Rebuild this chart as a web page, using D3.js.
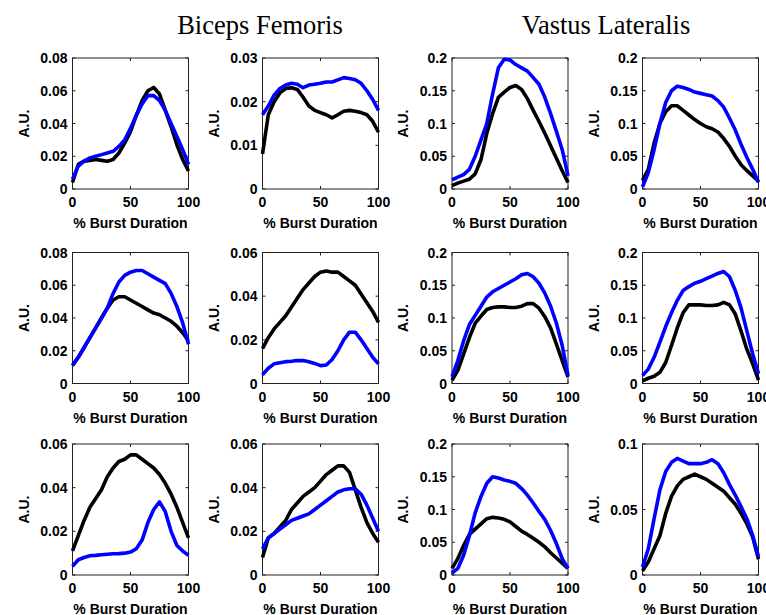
<!DOCTYPE html>
<html>
<head>
<meta charset="utf-8">
<script src="https://cdn.jsdelivr.net/npm/d3@7"></script>
<style>
  body { margin: 0; background: #fff; }
  svg text { font-family: "Liberation Sans", Arial, sans-serif; }
  .tick-label { font-size: 14px; font-weight: bold; fill: #000; }
  .axis-label { font-size: 14px; font-weight: bold; fill: #000; }
  .title { font-family: "Liberation Serif", "Times New Roman", serif !important; font-size: 26.5px; fill: #000; }
</style>
</head>
<body>
<svg id="chart" width="766" height="615"></svg>
<script>
// x positions, % of burst duration
var pct = [0, 5, 10, 15, 20, 25, 30, 35, 40, 45, 50, 55, 60, 65, 70, 75, 80, 85, 90, 95, 100];

var titles = ['Biceps Femoris', 'Vastus Lateralis'];
var xTicks = [0, 50, 100];

// y axis maximum for each panel (row by row)
var yMax = [0.08, 0.03, 0.2, 0.2,
            0.08, 0.06, 0.2, 0.2,
            0.06, 0.06, 0.2, 0.1];

// black traces
var black1  = [0.004, 0.015, 0.017, 0.0175, 0.018, 0.0175, 0.017, 0.018, 0.022, 0.028, 0.035, 0.045, 0.054, 0.06, 0.062, 0.058, 0.048, 0.038, 0.027, 0.018, 0.011];
var black2  = [0.008, 0.017, 0.020, 0.022, 0.023, 0.0232, 0.0228, 0.021, 0.019, 0.018, 0.0175, 0.017, 0.0163, 0.017, 0.0178, 0.018, 0.0178, 0.0175, 0.017, 0.0155, 0.013];
var black3  = [0.005, 0.009, 0.012, 0.015, 0.023, 0.045, 0.085, 0.115, 0.14, 0.148, 0.155, 0.158, 0.152, 0.138, 0.12, 0.103, 0.085, 0.066, 0.047, 0.028, 0.01];
var black4  = [0.013, 0.03, 0.07, 0.1, 0.118, 0.127, 0.127, 0.12, 0.113, 0.106, 0.1, 0.095, 0.092, 0.087, 0.077, 0.065, 0.05, 0.037, 0.028, 0.02, 0.012];
var black5  = [0.011, 0.016, 0.022, 0.028, 0.034, 0.04, 0.046, 0.051, 0.053, 0.053, 0.051, 0.049, 0.047, 0.045, 0.043, 0.042, 0.04, 0.038, 0.035, 0.031, 0.026];
var black6  = [0.016, 0.021, 0.025, 0.028, 0.031, 0.035, 0.039, 0.043, 0.046, 0.049, 0.051, 0.0515, 0.051, 0.051, 0.049, 0.047, 0.045, 0.041, 0.037, 0.033, 0.028];
var black7  = [0.005, 0.02, 0.045, 0.07, 0.092, 0.103, 0.113, 0.116, 0.117, 0.117, 0.116, 0.116, 0.118, 0.122, 0.122, 0.115, 0.102, 0.085, 0.06, 0.035, 0.01];
var black8  = [0.004, 0.008, 0.011, 0.017, 0.032, 0.058, 0.085, 0.108, 0.12, 0.12, 0.12, 0.119, 0.119, 0.12, 0.124, 0.12, 0.106, 0.08, 0.052, 0.03, 0.005];
var black9  = [0.011, 0.018, 0.025, 0.031, 0.035, 0.039, 0.045, 0.049, 0.052, 0.053, 0.055, 0.055, 0.053, 0.051, 0.049, 0.046, 0.042, 0.037, 0.031, 0.024, 0.017];
var black10 = [0.008, 0.017, 0.019, 0.022, 0.025, 0.03, 0.033, 0.036, 0.038, 0.04, 0.043, 0.046, 0.048, 0.05, 0.05, 0.047, 0.039, 0.031, 0.024, 0.019, 0.015];
var black11 = [0.01, 0.025, 0.045, 0.062, 0.07, 0.078, 0.086, 0.088, 0.087, 0.085, 0.081, 0.074, 0.067, 0.062, 0.056, 0.05, 0.043, 0.034, 0.026, 0.018, 0.01];
var black12 = [0.003, 0.01, 0.02, 0.03, 0.047, 0.06, 0.068, 0.073, 0.075, 0.077, 0.075, 0.073, 0.07, 0.067, 0.064, 0.059, 0.054, 0.047, 0.039, 0.029, 0.012];

// blue traces
var blue1  = [0.006, 0.014, 0.017, 0.019, 0.02, 0.021, 0.022, 0.023, 0.026, 0.030, 0.037, 0.045, 0.052, 0.057, 0.057, 0.054, 0.048, 0.04, 0.032, 0.024, 0.015];
var blue2  = [0.017, 0.019, 0.0215, 0.023, 0.0238, 0.0242, 0.024, 0.0232, 0.0238, 0.024, 0.0242, 0.0245, 0.0245, 0.025, 0.0255, 0.0253, 0.025, 0.0242, 0.0225, 0.0205, 0.018];
var blue3  = [0.014, 0.018, 0.022, 0.03, 0.05, 0.075, 0.1, 0.145, 0.185, 0.198, 0.197, 0.19, 0.185, 0.18, 0.17, 0.16, 0.14, 0.115, 0.088, 0.06, 0.02];
var blue4  = [0.003, 0.025, 0.06, 0.1, 0.132, 0.15, 0.157, 0.155, 0.152, 0.148, 0.146, 0.144, 0.142, 0.135, 0.125, 0.108, 0.09, 0.068, 0.048, 0.03, 0.01];
var blue5  = [0.011, 0.016, 0.022, 0.028, 0.034, 0.04, 0.046, 0.055, 0.062, 0.066, 0.068, 0.069, 0.069, 0.067, 0.065, 0.063, 0.061, 0.055, 0.047, 0.037, 0.024];
var blue6  = [0.004, 0.007, 0.009, 0.0095, 0.01, 0.0102, 0.0105, 0.0105, 0.01, 0.0092, 0.0082, 0.0085, 0.011, 0.015, 0.02, 0.0235, 0.0235, 0.02, 0.016, 0.012, 0.009];
var blue7  = [0.01, 0.035, 0.065, 0.09, 0.104, 0.118, 0.132, 0.14, 0.145, 0.15, 0.155, 0.16, 0.166, 0.168, 0.163, 0.153, 0.138, 0.118, 0.092, 0.058, 0.012];
var blue8  = [0.012, 0.022, 0.04, 0.063, 0.087, 0.108, 0.127, 0.142, 0.148, 0.153, 0.156, 0.16, 0.164, 0.168, 0.171, 0.163, 0.142, 0.115, 0.08, 0.045, 0.015];
var blue9  = [0.004, 0.007, 0.008, 0.0088, 0.009, 0.0093, 0.0095, 0.0097, 0.0098, 0.01, 0.0105, 0.012, 0.016, 0.024, 0.03, 0.0335, 0.029, 0.02, 0.0135, 0.011, 0.009];
var blue10 = [0.012, 0.017, 0.019, 0.021, 0.023, 0.025, 0.026, 0.027, 0.028, 0.030, 0.032, 0.034, 0.036, 0.038, 0.039, 0.0395, 0.0395, 0.037, 0.032, 0.026, 0.02];
var blue11 = [0.003, 0.01, 0.03, 0.06, 0.095, 0.12, 0.14, 0.15, 0.148, 0.145, 0.143, 0.14, 0.132, 0.122, 0.11, 0.097, 0.085, 0.068, 0.048, 0.025, 0.01];
var blue12 = [0.006, 0.02, 0.043, 0.065, 0.079, 0.086, 0.089, 0.087, 0.085, 0.085, 0.085, 0.086, 0.088, 0.085, 0.078, 0.069, 0.061, 0.052, 0.043, 0.03, 0.014];

var blacks = [black1, black2, black3, black4, black5, black6, black7, black8, black9, black10, black11, black12];
var blues = [blue1, blue2, blue3, blue4, blue5, blue6, blue7, blue8, blue9, blue10, blue11, blue12];

// layout
var colX = [72.5, 262.5, 452, 642.5],
    rowY = [58, 252.5, 444],
    panelW = 116,
    panelH = 131,
    tickLen = 3;

var svg = d3.select('#chart');

// column group titles
svg.append('text').attr('class', 'title')
    .attr('x', 260).attr('y', 34).attr('text-anchor', 'middle')
    .text(titles[0]);
svg.append('text').attr('class', 'title')
    .attr('x', 606).attr('y', 34).attr('text-anchor', 'middle')
    .text(titles[1]);

function fmt(v) { return String(+v.toFixed(3)); }

blacks.forEach(function(blk, i) {
    var row = Math.floor(i / 4), col = i % 4;
    var g = svg.append('g')
        .attr('transform', 'translate(' + colX[col] + ',' + rowY[row] + ')');

    var x = d3.scaleLinear().domain([0, 100]).range([0, panelW]);
    var y = d3.scaleLinear().domain([0, yMax[i]]).range([panelH, 0]);
    var step = yMax[i] <= 0.03 ? 0.01 : (yMax[i] <= 0.08 ? 0.02 : 0.05);
    var yTicks = d3.range(0, yMax[i] + step / 2, step);

    // box
    g.append('rect')
        .attr('width', panelW).attr('height', panelH)
        .attr('fill', 'none').attr('stroke', '#222').attr('stroke-width', 1);

    // inward ticks on all four sides
    xTicks.forEach(function(t) {
        g.append('line').attr('x1', x(t)).attr('x2', x(t))
            .attr('y1', panelH).attr('y2', panelH - tickLen).attr('stroke', '#222');
        g.append('line').attr('x1', x(t)).attr('x2', x(t))
            .attr('y1', 0).attr('y2', tickLen).attr('stroke', '#222');
        g.append('text').attr('class', 'tick-label')
            .attr('x', x(t)).attr('y', panelH + 18)
            .attr('text-anchor', 'middle').text(t);
    });
    yTicks.forEach(function(t) {
        g.append('line').attr('x1', 0).attr('x2', tickLen)
            .attr('y1', y(t)).attr('y2', y(t)).attr('stroke', '#222');
        g.append('line').attr('x1', panelW).attr('x2', panelW - tickLen)
            .attr('y1', y(t)).attr('y2', y(t)).attr('stroke', '#222');
        g.append('text').attr('class', 'tick-label')
            .attr('x', -5).attr('y', y(t) + 5)
            .attr('text-anchor', 'end').text(fmt(t));
    });

    // axis labels
    g.append('text').attr('class', 'axis-label')
        .attr('transform', 'translate(-44,' + (panelH / 2) + ') rotate(-90)')
        .attr('text-anchor', 'middle').text('A.U.');
    g.append('text').attr('class', 'axis-label')
        .attr('x', panelW / 2).attr('y', panelH + 39)
        .attr('text-anchor', 'middle').text('% Burst Duration');

    var line = d3.line()
        .x(function(d, k) { return x(pct[k]); })
        .y(function(d) { return y(d); });

    g.append('path').datum(blk)
        .attr('d', line)
        .attr('fill', 'none').attr('stroke', '#000')
        .attr('stroke-width', 3.6).attr('stroke-linejoin', 'round');
    g.append('path').datum(blues[i])
        .attr('d', line)
        .attr('fill', 'none').attr('stroke', '#0000ff')
        .attr('stroke-width', 3.6).attr('stroke-linejoin', 'round');
});
</script>
</body>
</html>
